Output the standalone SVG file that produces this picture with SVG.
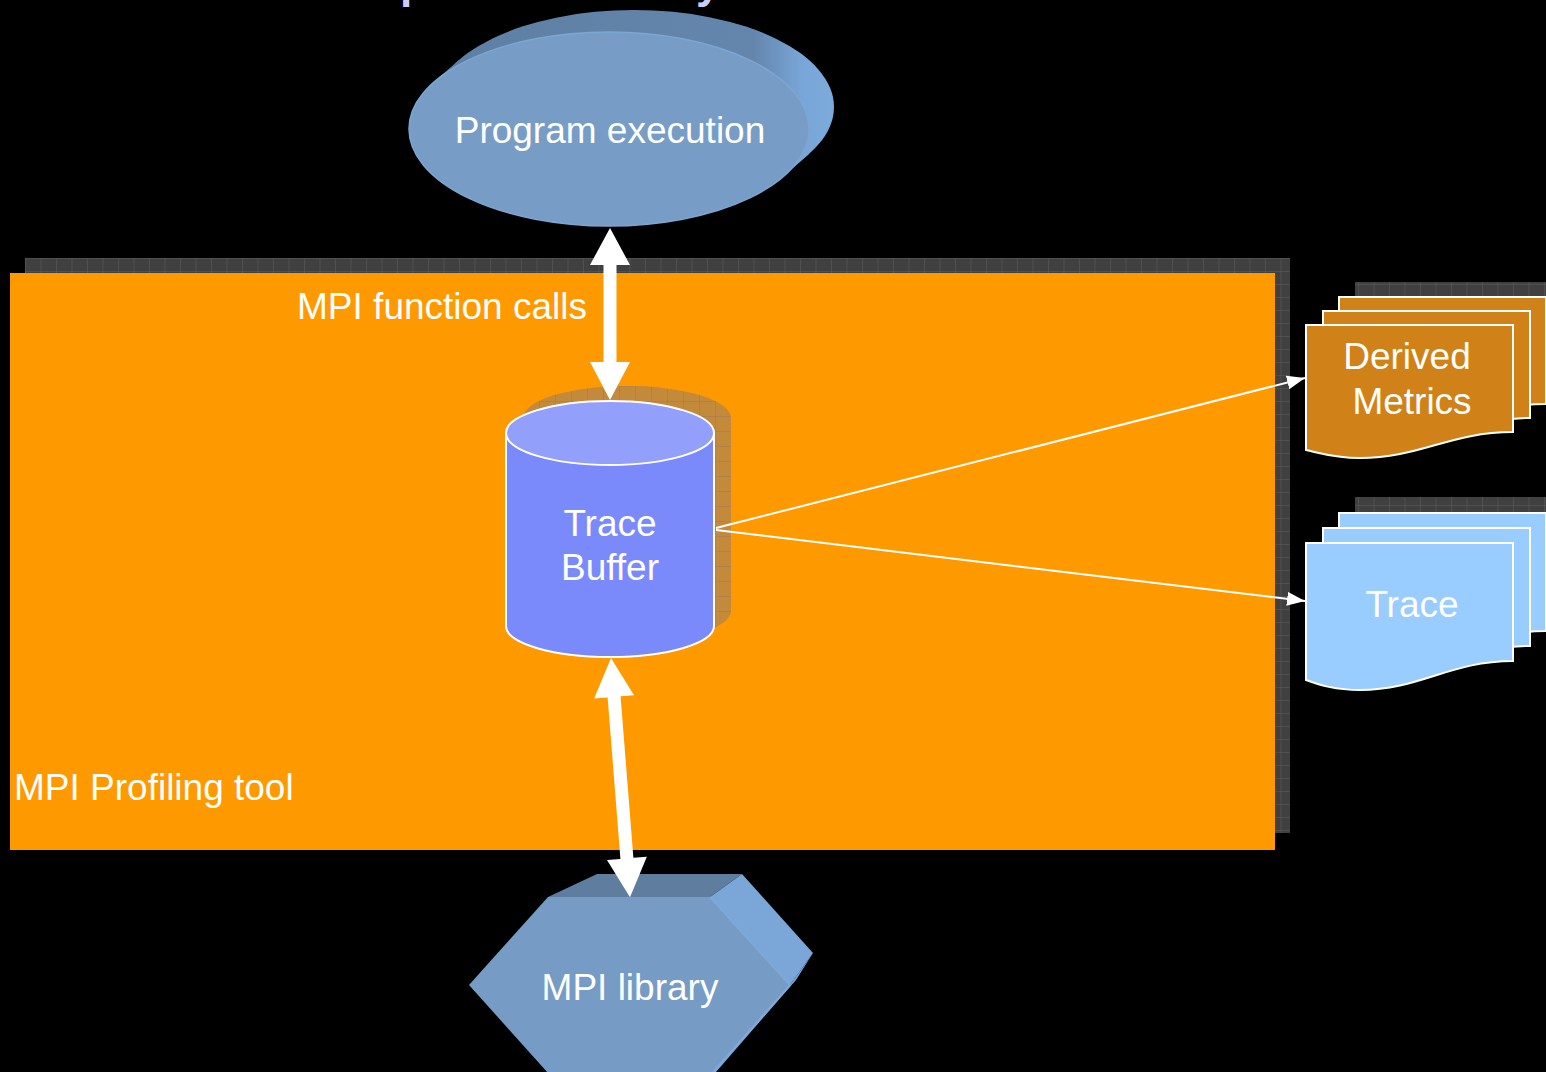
<svg xmlns="http://www.w3.org/2000/svg" xmlns:xlink="http://www.w3.org/1999/xlink" width="1546" height="1072" viewBox="0 0 1546 1072">
<style>
  .lbl { font-family: "Liberation Sans", Arial, sans-serif; font-size: 37px; fill: #ffffff; }
  .ttl { font-family: "Liberation Sans", Arial, sans-serif; font-size: 44px; font-weight: bold; fill: #ccccff; }
  .conn { stroke: #ffffff; stroke-width: 2; fill: none; }
  .big { fill: #ffffff; }
</style>
<defs>
  <pattern id="grid" x="25" y="258" width="15.5" height="13" patternUnits="userSpaceOnUse">
    <rect width="15.5" height="13" fill="#404040"/>
    <path d="M0,0 H15.5 M0,0 V13" stroke="#5e5e5e" stroke-width="1"/>
  </pattern>
  <pattern id="grid2" x="523" y="386" width="16" height="15" patternUnits="userSpaceOnUse">
    <rect width="16" height="15" fill="#c48a3c"/>
    <path d="M0,0 H16 M0,0 V15" stroke="#9c7a58" stroke-width="1"/>
  </pattern>
  <linearGradient id="side" x1="434" y1="0" x2="834" y2="0" gradientUnits="userSpaceOnUse">
    <stop offset="0" stop-color="#5e7fa3"/>
    <stop offset="0.8" stop-color="#6486ad"/>
    <stop offset="0.92" stop-color="#79a6d8"/>
    <stop offset="1" stop-color="#7caadb"/>
  </linearGradient>
  <path id="docD" d="M1306,325 H1513 V432 C1450,432 1420,458 1360,458 C1335,458 1320,453 1306,450 Z" stroke="#ffffff" stroke-width="2"/>
  <path id="docT" d="M1306,543 H1513 V661 C1450,661 1420,690 1360,690 C1335,690 1320,685 1306,680 Z" stroke="#ffffff" stroke-width="2"/>
  <marker id="ah" markerUnits="userSpaceOnUse" markerWidth="18" markerHeight="14" refX="18" refY="7" orient="auto">
    <path d="M0,0 L18,7 L0,14 Z" fill="#ffffff"/>
  </marker>
</defs>
<rect width="1546" height="1072" fill="#000000"/>
<text class="ttl" x="400" y="-2">p</text>
<text class="ttl" x="696" y="-2">y</text>

<g id="profiling-tool">
  <rect x="25" y="258" width="1265" height="575" fill="url(#grid)"/>
  <rect x="10" y="273" width="1265" height="577" fill="#ff9900"/>
  <text class="lbl" x="14" y="800">MPI Profiling tool</text>
</g>

<g id="program-execution">
  <ellipse cx="634" cy="107" rx="200" ry="97" fill="url(#side)"/>
  <polygon points="434,82 459,60 809,154 784,176" fill="url(#side)"/>
  <ellipse cx="609" cy="129" rx="200" ry="97" fill="#779dc6" stroke="#7ea6d2" stroke-width="1.5"/>
  <text class="lbl" x="610" y="143" text-anchor="middle">Program execution</text>
</g>

<g id="trace-buffer">
  <path d="M523,418 A104,32 0 0 1 731,418 V611 A104,31 0 0 1 523,611 Z" fill="url(#grid2)"/>
  <path d="M506,433 V626 A104,31 0 0 0 714,626 V433 Z" fill="#7a8afa" stroke="#ffffff" stroke-width="2"/>
  <ellipse cx="610" cy="433" rx="104" ry="32" fill="#93a0fb" stroke="#ffffff" stroke-width="2"/>
  <text class="lbl" x="610" y="536" text-anchor="middle">Trace</text>
  <text class="lbl" x="610" y="580" text-anchor="middle">Buffer</text>
</g>

<g id="derived-metrics">
  <rect x="1355" y="282" width="191" height="100" fill="url(#grid)"/>
  <use xlink:href="#docD" href="#docD" transform="translate(33,-28)" fill="#d08218"/>
  <use xlink:href="#docD" href="#docD" transform="translate(17,-14)" fill="#d08218"/>
  <use xlink:href="#docD" href="#docD" fill="#d08218"/>
  <text class="lbl" x="1407" y="369" text-anchor="middle">Derived</text>
  <text class="lbl" x="1412" y="414" text-anchor="middle">Metrics</text>
</g>

<g id="trace">
  <rect x="1355" y="497" width="191" height="100" fill="url(#grid)"/>
  <use xlink:href="#docT" href="#docT" transform="translate(33,-30)" fill="#99ccff"/>
  <use xlink:href="#docT" href="#docT" transform="translate(17,-15)" fill="#99ccff"/>
  <use xlink:href="#docT" href="#docT" fill="#99ccff"/>
  <text class="lbl" x="1412" y="617" text-anchor="middle">Trace</text>
</g>

<g id="mpi-library">
  <polygon points="548,897 597,874 742,874 710,897" fill="#5f7e9f"/>
  <polygon points="710,897 742,874 813,953 790,985" fill="#7aa7d8"/>
  <polygon points="790,985 813,953 796,980 716,1072 712,1072" fill="#7aa7d8"/>
  <polygon points="469,985 548,897 710,897 790,985 712,1073 548,1073" fill="#769bc4"/>
  <line x1="710" y1="897" x2="790" y2="985" stroke="#7ea9d8" stroke-width="2"/>
  <line x1="790" y1="985" x2="713" y2="1072" stroke="#7ea9d8" stroke-width="2"/>
  <text class="lbl" x="630" y="1000" text-anchor="middle">MPI library</text>
</g>

<g id="connectors">
  <polygon class="big" points="610,228 630,265 616.5,265 616.5,362 630,362 610,400 590,362 603.5,362 603.5,265 590,265"/>
  <g transform="translate(611,658) rotate(-4.54)">
    <polygon class="big" points="0,0 20,39 6.5,39 6.5,201 20,201 0,240 -20,201 -6.5,201 -6.5,39 -20,39"/>
  </g>
  <line class="conn" x1="716" y1="528" x2="1305" y2="378" marker-end="url(#ah)"/>
  <line class="conn" x1="716" y1="530" x2="1305" y2="601" marker-end="url(#ah)"/>
  <text class="lbl" x="587" y="319" text-anchor="end">MPI function calls</text>
</g>
</svg>
